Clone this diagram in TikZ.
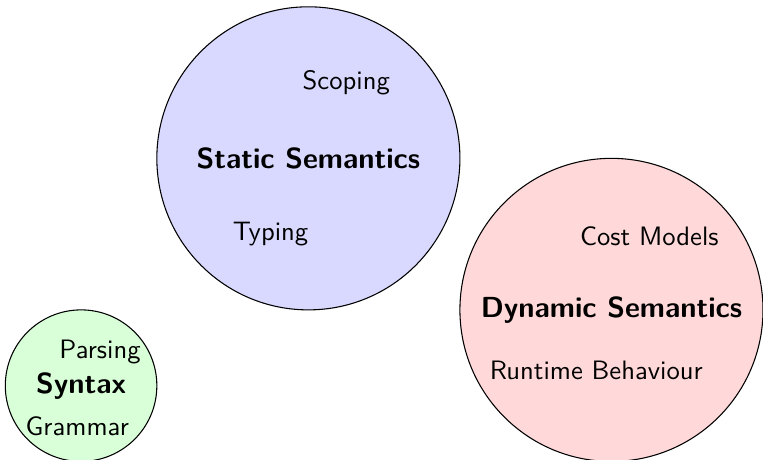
\documentclass[tikz,border=0pt]{standalone}
\usetikzlibrary{positioning}

\begin{document}
\begin{tikzpicture}[font=\sffamily,
  area/.style={circle, draw=black, line width=0.4pt, inner sep=0pt},
  big/.style={area, minimum size=4cm},
  small/.style={area, minimum size=2cm},
  head/.style={font=\sffamily\bfseries\fontsize{10.9pt}{13pt}\selectfont},
  topic/.style={font=\sffamily}]
\useasboundingbox (-0.07,0.02) rectangle (10.0,6.09);

% ---------------- the three areas
\node[small, fill=green!15] (syn) at (1,1) {};
\node[big, fill=blue!15] (stat) at (4,4) {};
\node[big, fill=red!15] (dyn) at (8,2) {};

% ---------------- names
\node[head] (synname) at (syn.center) {Syntax};
\node[head] (statname) at (stat.center) {Static Semantics};
\node[head] (dynname) at (dyn.center) {Dynamic Semantics};

% ---------------- topics inside each area
\node[topic] (parse) at (1.25,1.44) {Parsing};
\node[topic] (gram) at (0.95,0.47) {Grammar};
\node[topic] (scope) at (4.5,5) {Scoping};
\node[topic] (type) at (3.5,3) {Typing};
\node[topic] (cost) at (8.5,2.97) {Cost Models};
\node[topic] (run) at (7.8,1.2) {Runtime Behaviour};
\end{tikzpicture}
\end{document}
